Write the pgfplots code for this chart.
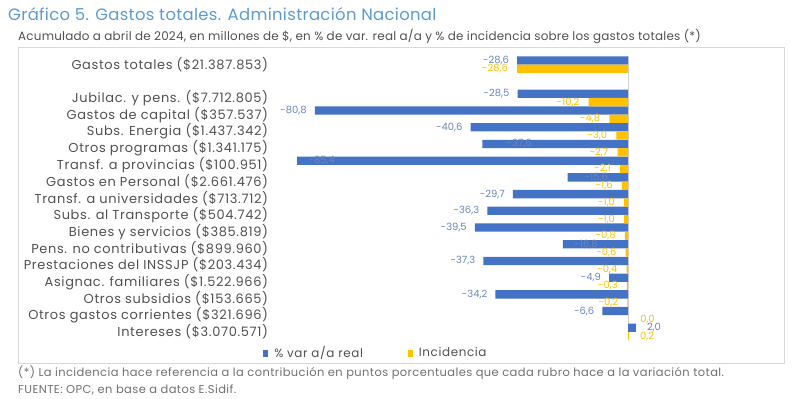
\documentclass[border=0pt]{standalone}
\usepackage{fontspec}
\setmainfont{Poppins}
\newfontfamily\titlefont[LetterSpace=2]{Poppins}
\newfontfamily\subfont[LetterSpace=1.7]{Poppins}
\newfontfamily\catfont[LetterSpace=5]{Poppins}
\newfontfamily\notefont[LetterSpace=3.7]{Poppins}
\newfontfamily\legfont[LetterSpace=5]{Poppins}
\usepackage{pgfplots}
\pgfplotsset{compat=1.18}
\usepackage{pgfplotstable}
\definecolor{barblue}{HTML}{4472C4}
\definecolor{baryellow}{HTML}{FFC000}
\definecolor{lblblue}{HTML}{6A86BC}
\definecolor{titleblue}{HTML}{5B9BD5}
\definecolor{txtgray}{HTML}{505050}
\definecolor{notegray}{HTML}{707070}

\pgfplotstableread{
y var sh
0 -28.6 -7
-2 -28.5 -7
-3 -80.8 -7
-4 -40.6 -7
-5 -37.6 50.7
-6 -85.4 39
-7 -15.6 41.5
-8 -29.7 -7
-9 -36.3 -7
-10 -39.5 -7
-11 -16.8 36
-12 -37.3 -7
-13 -4.9 -7
-14 -34.2 -7
-15 -6.6 -7
-16 2.0 10
}\vardata

\pgfplotstableread{
y inc sh
0 -28.6 -8
-2 -10.2 -8
-3 -4.8 -8
-4 -3.0 -8
-5 -2.7 -8
-6 -2.1 -8
-7 -1.6 -8
-8 -1.0 -8
-9 -1.0 -8
-10 -0.8 -8
-11 -0.6 -8
-12 -0.4 -8
-13 -0.3 -8
-14 -0.2 -8
-15 0.0 11
-16 0.2 10
}\incdata

\begin{document}
\begin{tikzpicture}[x=1bp,y=1bp]
\useasboundingbox (0,0) rectangle (800,398);
\draw[gray!30, line width=0.8bp] (18,35) rectangle (784,351);
\node[anchor=west, inner sep=0pt, text=titleblue, font=\titlefont\fontsize{16.5}{19}\selectfont] at (8,384) {Gráfico 5. Gastos totales. Administración Nacional};
\node[anchor=west, inner sep=0pt, text=txtgray, font=\subfont\fontsize{12}{14}\selectfont] at (18,362) {Acumulado a abril de 2024, en millones de \$, en \% de var. real a/a y \% de incidencia sobre los gastos totales (*)};
\node[anchor=west, inner sep=0pt, text=notegray, font=\notefont\fontsize{11.5}{13}\selectfont] at (18,25.5) {(*) La incidencia hace referencia a la contribución en puntos porcentuales que cada rubro hace a la variación total.};
\node[anchor=west, inner sep=0pt, text=notegray, font=\notefont\fontsize{11.5}{13}\selectfont] at (18,8.5) {FUENTE: OPC, en base a datos E.Sidif.};
\begin{axis}[
  at={(275.3bp,57.7bp)}, anchor=south west,
  width=391.5bp, height=284.1bp, scale only axis,
  xmin=-91, xmax=10, ymin=-16.5, ymax=0.5,
  xbar, bar width=8.3bp,
  axis line style={draw=none},
  xtick=\empty,
  extra x ticks={0}, extra x tick labels={},
  extra x tick style={grid=major, major grid style={gray!35, line width=0.6bp}, major tick length=0pt},
  ytick={0,-2,-3,-4,-5,-6,-7,-8,-9,-10,-11,-12,-13,-14,-15,-16},
  yticklabels={Gastos totales (\$21.387.853),Jubilac. y pens. (\$7.712.805),Gastos de capital (\$357.537),Subs. Energia (\$1.437.342),Otros programas (\$1.341.175),Transf. a provincias (\$100.951),Gastos en Personal (\$2.661.476),Transf. a universidades (\$713.712),Subs. al Transporte (\$504.742),Bienes y servicios (\$385.819),Pens. no contributivas (\$899.960),Prestaciones del INSSJP (\$203.434),Asignac. familiares (\$1.522.966),Otros subsidios (\$153.665),Otros gastos corrientes (\$321.696),Intereses (\$3.070.571)},
  major tick length=0pt,
  yticklabel style={font=\catfont\fontsize{13}{15}\selectfont, text=txtgray, inner sep=0pt, xshift=-7bp},
  nodes near coords,
  nodes near coords align={horizontal},
  every node near coord/.append style={font=\fontsize{10}{11}\selectfont, inner sep=1bp, xshift=\sh bp},
  /pgf/number format/.cd, fixed, fixed zerofill, precision=1, use comma, assume math mode=true,
  /pgfplots/.cd,
  visualization depends on={\thisrow{sh} \as \sh},
  legend style={at={(0.257,-0.0447)}, anchor=center, draw=none, fill=none, legend columns=2,
    font=\legfont\fontsize{12}{14}\selectfont, text=txtgray,
    /tikz/every odd column/.append style={column sep=4bp},
    /tikz/every even column/.append style={column sep=43bp}},
  legend image code/.code={\fill[#1,draw=none] (0bp,-3.5bp) rectangle (5bp,3.5bp);},
  clip=false,
]
\addplot[fill=barblue, draw=none, bar shift=4.15bp, every node near coord/.append style={text=lblblue}] table[x=var, y=y] {\vardata};
\addlegendentry{\% var a/a real}
\addplot[fill=baryellow, draw=none, bar shift=-4.15bp, every node near coord/.append style={text=baryellow}] table[x=inc, y=y] {\incdata};
\addlegendentry{Incidencia}
\end{axis}
\end{tikzpicture}
\end{document}
